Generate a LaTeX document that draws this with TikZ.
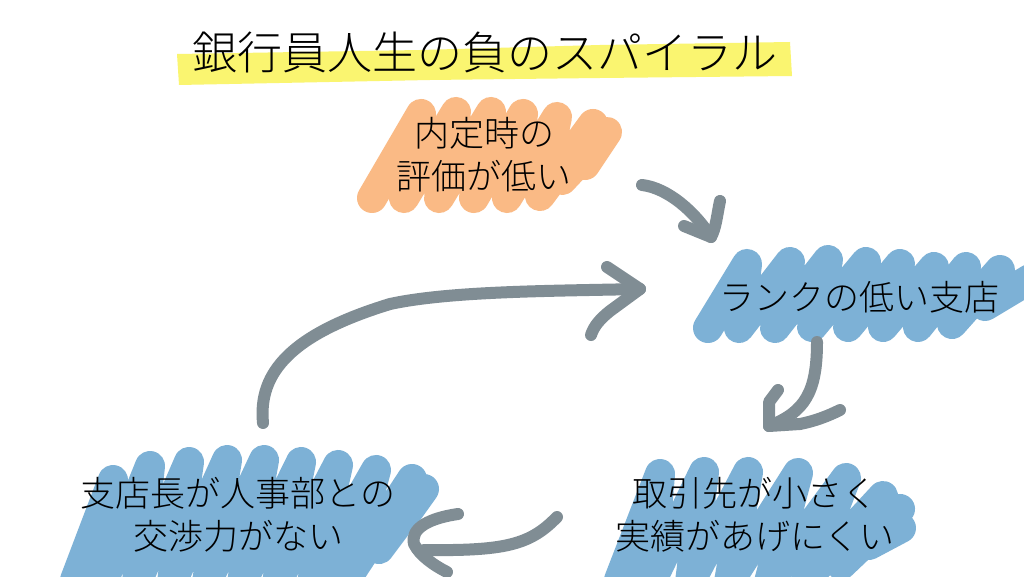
\documentclass[tikz,border=0pt]{standalone}
\usepackage{fontspec}
\setmainfont{Noto Sans CJK JP Light}
\definecolor{hlyellow}{RGB}{250,245,112}
\definecolor{mkorange}{RGB}{250,186,133}
\definecolor{mkblue}{RGB}{125,177,214}
\definecolor{arrgray}{RGB}{128,141,148}
\tikzset{
  marker/.style={line width=30pt, line join=round, line cap=round},
  handarrow/.style={draw=arrgray, line width=12pt, line cap=round, line join=round},
  label/.style={inner sep=0pt, align=center, text=black, font=\fontsize{35}{43}\selectfont},
  titlelabel/.style={inner sep=0pt, text=black, font=\fontsize{45}{50}\selectfont}
}
\begin{document}
\begin{tikzpicture}[x=1pt,y=-1pt]
\useasboundingbox[fill=white] (0,0) rectangle (1024,577);
% title highlight
\fill[hlyellow] (177,54) -- (420,50) -- (600,45) -- (790,42) -- (792,76) -- (600,78) -- (430,80) -- (179,85) -- cycle;
% orange scribble
\draw[marker, draw=mkorange] (372,198) -- (421,114) -- (404,198) -- (456,112) -- (439,198) -- (491,112) -- (474,198) -- (523,114) -- (507,198) -- (557,117) -- (540,196) -- (593,124) -- (562,180) -- (607,132) -- (585,165);
% blue scribble: rank
\draw[marker, draw=mkblue] (708,328) -- (747,264) -- (739,328) -- (790,262) -- (775,328) -- (828,260) -- (812,327) -- (866,262) -- (848,327) -- (900,264) -- (883,327) -- (934,267) -- (918,327) -- (966,267) -- (952,324) -- (1000,270) -- (985,306) -- (1030,279);
% blue scribble: shitencho
\draw[marker, draw=mkblue] (75,580) -- (113,480) -- (103,582) -- (150,466) -- (137,582) -- (189,462) -- (172,582) -- (227,460) -- (207,582) -- (264,460) -- (242,582) -- (301,462) -- (277,582) -- (338,465) -- (312,582) -- (376,470) -- (347,578) -- (412,479) -- (379,549) -- (424,489) -- (404,517);
% blue scribble: torihiki
\draw[marker, draw=mkblue] (619,580) -- (660,474) -- (651,582) -- (704,472) -- (690,582) -- (748,472) -- (729,582) -- (798,473) -- (769,582) -- (846,478) -- (807,578) -- (883,496) -- (841,565) -- (900,509) -- (869,545) -- (901,528);
% texts
\node[titlelabel] (title) at (485,52) {銀行員人生の負のスパイラル};
\node[label] (naitei) at (484,155) {内定時の\\評価が低い};
\node[label] (rank) at (859,297) {ランクの低い支店};
\node[label] (torihiki) at (755,515) {取引先が小さく\\実績があげにくい};
\node[label] (shitencho) at (238,515) {支店長が人事部との\\交渉力がない};
% arrow end points
\coordinate (a1s) at (642,185);
\coordinate (a1t) at (711,237);
\coordinate (a2s) at (817,342);
\coordinate (a2t) at (769,426);
\coordinate (a3s) at (557,517);
\coordinate (a3t) at (424,550);
\coordinate (a4s) at (263,423);
\coordinate (a4t) at (640,289);
% arrow 1: naitei -> rank
\draw[handarrow] (a1s) .. controls (668,188) and (695,212) .. (a1t);
\draw[handarrow] (720,201) .. controls (717,215) and (716,228) .. (a1t) -- (684,226);
% arrow 2: rank -> torihiki
\draw[handarrow] (a2s) .. controls (817,392) and (805,412) .. (a2t);
\draw[handarrow] (778,390) -- (769,402) -- (a2t) -- (800,424) .. controls (815,421) and (828,416) .. (840,410);
% arrow 3: torihiki -> shitencho
\draw[handarrow] (a3s) .. controls (530,545) and (505,551) .. (a3t);
\draw[handarrow] (458,514) .. controls (430,518) and (410,528) .. (414,544) .. controls (420,556) and (435,566) .. (447,572);
% arrow 4: shitencho -> rank
\draw[handarrow] (a4s) .. controls (258,372) and (292,334) .. (390,304) .. controls (450,291) and (550,291) .. (a4t);
\draw[handarrow] (607,267) -- (a4t) -- (610,311) .. controls (600,319) and (594,326) .. (591,335);
\end{tikzpicture}
\end{document}
